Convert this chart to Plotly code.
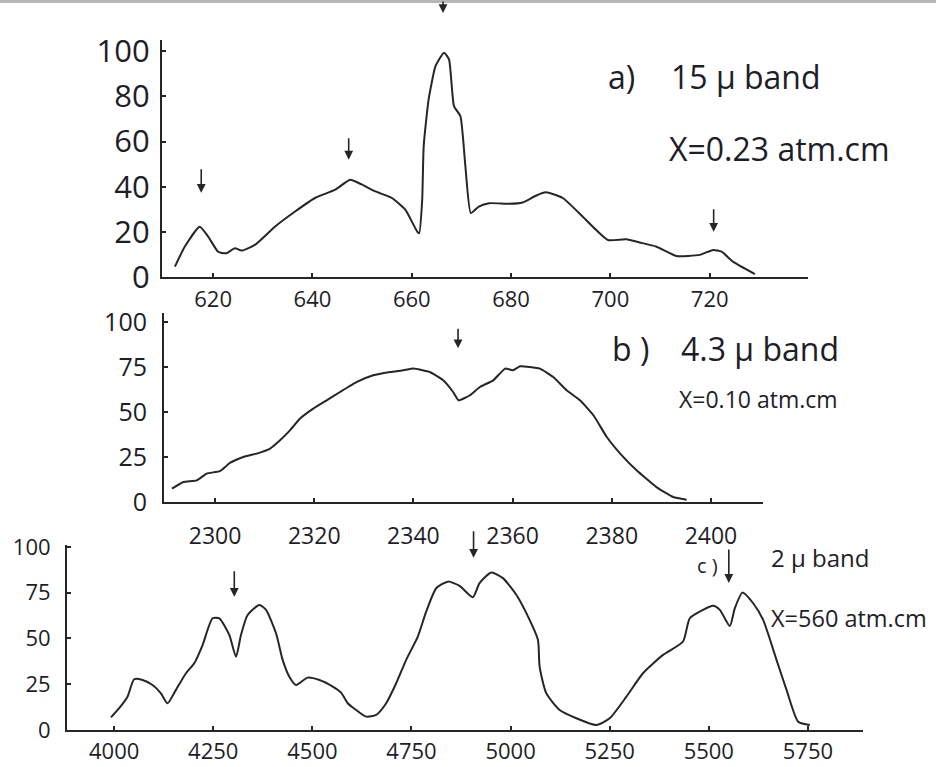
import plotly.graph_objects as go

W, H = 936, 767

# ---- Panel a: 15 micron band ----
a_x = [612.3, 614.3, 617.3, 619.0, 621.0, 622.6, 624.4, 625.7, 628.4, 632.5, 636.5, 640.5, 644.6,
       647.6, 650.0, 652.7, 656.0, 658.7, 661.1, 661.5, 662.1, 662.4, 663.4, 664.8, 666.5, 667.5,
       668.5, 669.8, 670.8, 671.9, 673.5, 675.6, 679.6, 682.3, 685.0, 687.0, 690.4, 694.4, 697.1,
       699.5, 703.2, 705.9, 709.2, 713.3, 718.0, 720.7, 722.4, 724.7, 729.1]
a_y = [4.6, 13.5, 22.3, 17.9, 11.2, 10.5, 12.7, 11.7, 14.2, 22.4, 29.0, 35.0, 38.7,
       43.1, 40.9, 37.9, 35.0, 29.8, 20.1, 19.4, 34.2, 57.9, 78.7, 93.5, 99.4, 96.4,
       75.7, 71.2, 49.0, 28.3, 31.2, 32.7, 32.4, 33.0, 36.0, 37.5, 35.0, 26.8, 20.9,
       16.4, 16.7, 15.3, 13.5, 9.3, 9.8, 12.0, 11.2, 6.8, 1.3]

# ---- Panel b: 4.3 micron band ----
b_x = [2291.3, 2293.6, 2296.3, 2298.3, 2301.0, 2303.0, 2305.7, 2308.4, 2311.1, 2313.1, 2315.1,
       2317.1, 2319.8, 2322.5, 2325.2, 2328.6, 2331.9, 2335.3, 2338.0, 2340.0, 2343.3, 2346.0,
       2348.0, 2349.1, 2351.4, 2353.4, 2356.1, 2358.5, 2360.1, 2361.5, 2365.5, 2368.2, 2370.9,
       2373.6, 2376.3, 2379.0, 2381.7, 2385.0, 2389.0, 2392.4, 2395.1]
b_y = [7.4, 11.1, 12.0, 15.8, 17.2, 21.7, 25.0, 26.9, 29.7, 34.3, 39.8,
       46.3, 51.9, 56.5, 61.1, 66.7, 70.4, 72.2, 73.2, 74.1, 72.2, 67.6,
       61.1, 56.5, 59.3, 63.9, 67.6, 74.1, 73.2, 75.4, 74.1, 69.4, 62.1,
       56.5, 48.2, 36.1, 26.9, 17.6, 8.3, 2.8, 1.3]

# ---- Panel c: 2 micron band ----
c_x = [3992, 4012.6, 4033.6, 4050.5, 4071.5, 4096.7, 4117.9, 4134.6, 4155.8, 4181.1, 4202, 4223,
       4248.2, 4265.2, 4290.4, 4307.3, 4319.9, 4336.6, 4366.2, 4383, 4408.3, 4425, 4441.9, 4458.8,
       4488.1, 4517.7, 4551.3, 4572.5, 4589.2, 4610.4, 4635.6, 4660.9, 4686.1, 4711.4, 4736.6,
       4765.9, 4787.1, 4812.4, 4841.7, 4871.2, 4904.8, 4921.7, 4951.3, 4980.6, 5014.4, 5048,
       5069, 5073.2, 5090, 5123.7, 5165.9, 5216.4, 5250, 5292.2, 5334, 5384.6, 5435, 5452,
       5485.6, 5510.9, 5527.8, 5553, 5565.7, 5585, 5611.9, 5637.1, 5670.8, 5696.1, 5725.5, 5755]
c_y = [6.9, 11.9, 18.2, 27.7, 27.3, 24.6, 20.0, 14.6, 21.9, 31.0, 36.4, 46.4,
       61.0, 61.0, 51.9, 40.0, 51.9, 62.8, 68.3, 65.6, 52.8, 38.3, 29.1, 24.6,
       28.6, 27.3, 23.7, 20.4, 14.6, 10.9, 7.3, 8.2, 14.6, 25.5, 38.3,
       51.0, 64.6, 77.4, 81.0, 78.7, 72.5, 80.2, 86.0, 82.9, 73.8, 60.1,
       49.2, 34.6, 20.1, 10.9, 6.4, 2.7, 6.4, 18.2, 31.0, 41.0, 48.3, 61.0,
       65.6, 67.8, 65.6, 56.8, 66.5, 75.0, 69.2, 60.1, 38.3, 21.9, 4.5, 2.7]

a_xticks = [620, 640, 660, 680, 700, 720]
a_yticks = [0, 20, 40, 60, 80, 100]
b_xticks = [2300, 2320, 2340, 2360, 2380, 2400]
b_yticks = [0, 25, 50, 75, 100]
c_xticks = [4000, 4250, 4500, 4750, 5000, 5250, 5500, 5750]
c_yticks = [0, 25, 50, 75, 100]

# arrows: (x data, y head data, tail offset px)
a_arrows = [(617.6, 37.3, -25), (647.3, 52.0, -23), (720.8, 20.0, -24)]
b_arrows = [(2349.0, 85.4, -21)]
c_arrows = [(4303.0, 72.7, -27), (4906.6, 94.0, -28), (5550.5, 80.3, -35)]

INK = "#262626"
TXT = "#1e1e28"
FONT = "Open Sans"

fig = go.Figure()
fig.add_trace(go.Scatter(x=a_x, y=a_y, mode="lines", xaxis="x", yaxis="y",
                         line=dict(color=INK, width=2, shape="spline", smoothing=0.5)))
fig.add_trace(go.Scatter(x=b_x, y=b_y, mode="lines", xaxis="x2", yaxis="y2",
                         line=dict(color=INK, width=2, shape="spline", smoothing=0.4)))
fig.add_trace(go.Scatter(x=c_x, y=c_y, mode="lines", xaxis="x3", yaxis="y3",
                         line=dict(color=INK, width=2, shape="spline", smoothing=0.6)))

def px(v):
    return v / W

def py(v):
    return 1 - v / H

common = dict(showgrid=False, zeroline=False, showline=True, linecolor=INK, linewidth=2,
              ticks="inside", ticklen=4, tickcolor=INK, tickwidth=1.5, fixedrange=True,
              automargin=False)

fig.update_layout(
    width=W, height=H, margin=dict(l=0, r=0, t=0, b=0, pad=0, autoexpand=False),
    paper_bgcolor="white", plot_bgcolor="white", showlegend=False,
    xaxis=dict(domain=[px(162), px(808)], range=[609.7, 739.8], anchor="y",
               tickvals=a_xticks, tickfont=dict(size=22, color=TXT, family=FONT),
               ticklabelstandoff=2, **common),
    yaxis=dict(domain=[py(277), py(40)], range=[0, 105], anchor="x",
               tickvals=a_yticks, tickfont=dict(size=31, color=TXT, family=FONT),
               ticklabelstandoff=4, **common),
    xaxis2=dict(domain=[px(164), px(763)], range=[2289.7, 2410.5], anchor="y2",
                tickvals=b_xticks, tickfont=dict(size=23, color=TXT, family=FONT),
                ticklabelstandoff=12, **common),
    yaxis2=dict(domain=[py(502), py(313)], range=[0, 105], anchor="x2",
                tickvals=b_yticks, tickfont=dict(size=25, color=TXT, family=FONT),
                ticklabelstandoff=10, **common),
    xaxis3=dict(domain=[px(67), px(863)], range=[3881, 5889], anchor="y3",
                tickvals=c_xticks, tickfont=dict(size=22, color=TXT, family=FONT),
                ticklabelstandoff=1, **common),
    yaxis3=dict(domain=[py(730), py(545)], range=[0, 101], anchor="x3",
                tickvals=c_yticks, tickfont=dict(size=22, color=TXT, family=FONT),
                ticklabelstandoff=10, **common),
)

ann = []
def text(x, y, s, size):
    ann.append(dict(x=px(x), y=py(y), xref="paper", yref="paper", text=s, showarrow=False,
                    xanchor="left", yanchor="middle", font=dict(size=size, color=TXT, family=FONT)))

text(606, 77, "a)", 32)
text(669, 77, "15 μ band", 32)
text(667, 148, "X=0.23 atm.cm", 32)
text(610, 349, "b )", 32)
text(679, 349, "4.3 μ band", 32)
text(677, 399, "X=0.10 atm.cm", 23)
text(695, 565, "c )", 20)
text(769, 557, "2 μ band", 24)
text(769, 618, "X=560 atm.cm", 23.5)

arrow_style = dict(showarrow=True, arrowhead=2, arrowsize=1.1, arrowwidth=1.6,
                   arrowcolor=INK, ax=0, text="")
for (xx, yy, l) in a_arrows:
    ann.append(dict(x=xx, y=yy, xref="x", yref="y", ay=l, **arrow_style))
ann.append(dict(x=666.3, y=py(13), xref="x", yref="paper", ay=-13, **arrow_style))
for (xx, yy, l) in b_arrows:
    ann.append(dict(x=xx, y=yy, xref="x2", yref="y2", ay=l, **arrow_style))
for (xx, yy, l) in c_arrows:
    ann.append(dict(x=xx, y=yy, xref="x3", yref="y3", ay=l, **arrow_style))

fig.update_layout(annotations=ann)
fig.add_shape(type="line", xref="paper", yref="paper", x0=0, x1=1, y0=py(1.5), y1=py(1.5),
              line=dict(color="#b8b8b8", width=3))

fig.write_html("out.html", config={"responsive": False, "displayModeBar": False},
               post_script="document.body.style.margin='0';document.body.style.overflow='hidden';")
